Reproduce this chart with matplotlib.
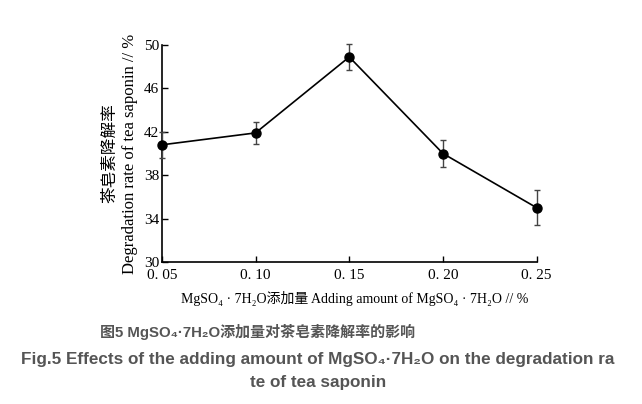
import matplotlib.pyplot as plt
from matplotlib.ticker import FixedLocator

# data
dosage = [0.05, 0.10, 0.15, 0.20, 0.25]
rate = [40.8, 41.9, 48.9, 40.0, 35.0]
err = [1.2, 1.0, 1.2, 1.25, 1.6]
xtick_labels = ['0. 05', '0. 10', '0. 15', '0. 20', '0. 25']
yticks = [30, 34, 38, 42, 46, 50]

serif = ['Liberation Serif', 'DejaVu Serif', 'Noto Sans CJK SC']
plt.rcParams['font.family'] = serif

fig = plt.figure(figsize=(6.42, 4.04), dpi=100)
ax = fig.add_axes([0.252, 0.3515, 0.584, 0.537])

ax.errorbar(dosage, rate, yerr=err, color='black', lw=1.2, marker='o', ms=6.5,
            ecolor='#444444', elinewidth=1.0, capsize=2.5, capthick=1.0,
            clip_on=False, zorder=3)

ax.set_xlim(0.05, 0.25)
ax.set_ylim(30, 50)
ax.xaxis.set_major_locator(FixedLocator(dosage))
ax.set_xticklabels(xtick_labels)
ax.set_yticks(yticks)
ax.tick_params(direction='in', length=4, width=1, labelsize=11)
ax.tick_params(axis='y', pad=2)
ax.tick_params(axis='x', pad=5)
for s in ['top', 'right']:
    ax.spines[s].set_visible(False)
for s in ['left', 'bottom']:
    ax.spines[s].set_linewidth(1.2)

ax.set_ylabel('茶皂素降解率\nDegradation rate of tea saponin // %', fontsize=12,
              linespacing=1.35, labelpad=4)
ax.set_xlabel('MgSO₄ · 7H₂O添加量 Adding amount of MgSO₄ · 7H₂O // %', fontsize=10)
ax.xaxis.set_label_coords(0.515, -0.135)

cap_font = ['Liberation Sans', 'DejaVu Sans', 'Noto Sans CJK SC']
fig.text(0.156, 0.178, '图5 MgSO₄·7H₂O添加量对茶皂素降解率的影响', fontsize=10.8,
         fontweight='bold', color='#555555', family=cap_font, va='center')
fig.text(0.495, 0.109, 'Fig.5 Effects of the adding amount of MgSO₄·7H₂O on the degradation ra',
         fontsize=12.3, fontweight='bold', color='#555555',
         family=cap_font, ha='center', va='center')
fig.text(0.495, 0.052, 'te of tea saponin', fontsize=12.3, fontweight='bold', color='#555555',
         family=cap_font, ha='center', va='center')

fig.savefig('out.png', dpi=100)
